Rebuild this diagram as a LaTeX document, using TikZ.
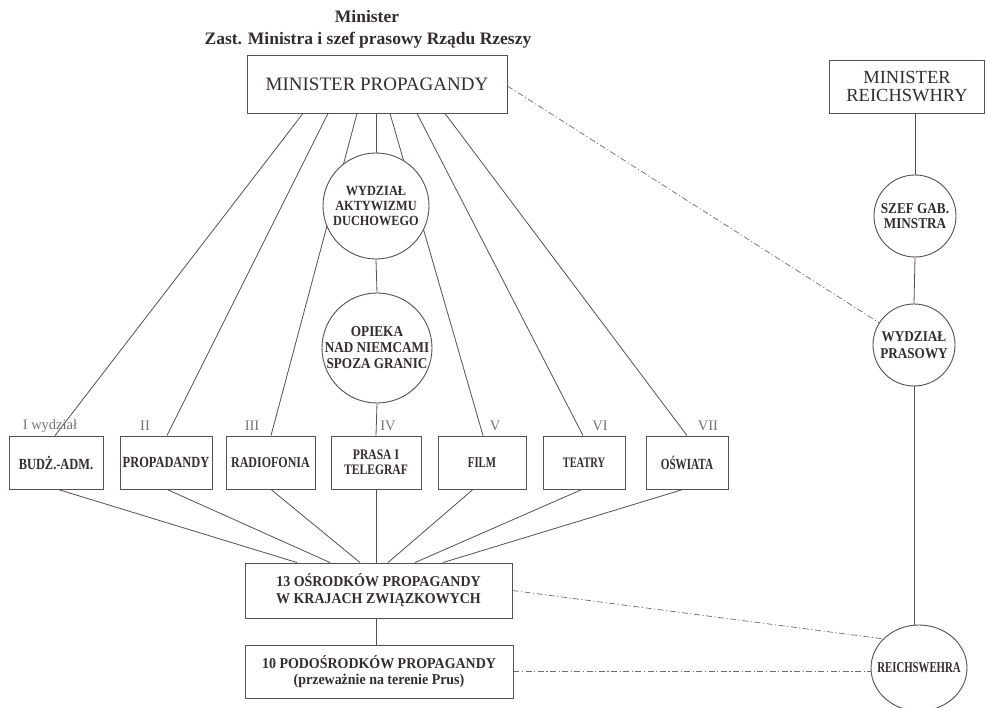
\documentclass[tikz,border=0pt]{standalone}
\usepackage{fontspec}
\setmainfont{Liberation Serif}
\newfontfamily\fa[FakeStretch=0.8]{Liberation Serif}
\newfontfamily\fb[FakeStretch=0.72]{Liberation Serif}
\newfontfamily\fc[FakeStretch=0.88]{Liberation Serif}
\newfontfamily\fd[FakeStretch=0.93]{Liberation Serif}
\usetikzlibrary{backgrounds,shapes.geometric}
\definecolor{ln}{HTML}{5A4E4E}
\definecolor{tx}{HTML}{352D2D}
\definecolor{lab}{HTML}{767272}
\newcommand\zw[1]{\makebox[0pt]{#1}}
\tikzset{
  box/.style={draw=ln, line width=0.9pt, fill=white, inner sep=0pt, align=center, text=tx},
  rnd/.style={circle, draw=ln, line width=0.9pt, fill=white, inner sep=0pt, align=center, text=tx},
  oval/.style={ellipse, draw=ln, line width=0.9pt, fill=white, inner sep=0pt, align=center, text=tx},
  conn/.style={draw=ln, line width=0.8pt},
  dd/.style={draw=ln!85, line width=0.7pt, dash pattern=on 6pt off 2.5pt on 1.2pt off 2.5pt},
  num/.style={text=lab, font=\fontsize{14.5}{16}\selectfont, inner sep=0pt},
  ttl/.style={text=tx, font=\bfseries\fontsize{17.5}{20}\selectfont, inner sep=0pt},
  rowbox/.style={box, minimum height=53pt},
}
\begin{document}
\begin{tikzpicture}[x=1pt,y=-1pt]
\useasboundingbox (0,0) rectangle (986,708);
% titles
\node[ttl] (t1) at (367,17) {Minister};
\node[ttl] (t2) at (368,40) {Zast. Ministra i szef prasowy Rządu Rzeszy};
% main
\node[box, minimum width=260pt, minimum height=58pt, font=\fontsize{19}{22}\selectfont] (mp) at (377,84) {MINISTER PROPAGANDY};
\node[rnd, minimum size=106pt, font=\fc\bfseries\fontsize{14}{15}\selectfont] (wad) at (376,206) {\zw{WYDZIAŁ}\\\zw{AKTYWIZMU}\\\zw{DUCHOWEGO}};
\node[rnd, minimum size=110pt, font=\fc\bfseries\fontsize{15}{16}\selectfont] (op) at (377,348) {\zw{OPIEKA}\\\zw{NAD NIEMCAMI}\\\zw{SPOZA GRANIC}};
% row of departments
\node[rowbox, minimum width=94pt, font=\fa\bfseries\fontsize{15.5}{15}\selectfont] (budz) at (56,462.5) {BUDŻ.-ADM.};
\node[rowbox, minimum width=92pt, font=\fa\bfseries\fontsize{15.5}{15}\selectfont] (prop) at (166,462.5) {PROPADANDY};
\node[rowbox, minimum width=89pt, font=\fa\bfseries\fontsize{15}{15}\selectfont] (radio) at (270.5,462.5) {RADIOFONIA};
\node[rowbox, minimum width=90pt, font=\fa\bfseries\fontsize{14.5}{15}\selectfont] (prasa) at (376,462.5) {PRASA I\\TELEGRAF};
\node[rowbox, minimum width=88pt, font=\fb\bfseries\fontsize{15}{15}\selectfont] (film) at (482,462.5) {FILM};
\node[rowbox, minimum width=82pt, font=\fb\bfseries\fontsize{14.5}{15}\selectfont] (teatry) at (584,462.5) {TEATRY};
\node[rowbox, minimum width=82pt, font=\fb\bfseries\fontsize{15.5}{15}\selectfont] (oswiata) at (687,462.5) {OŚWIATA};
% numerals
\node[num] (n1) at (50,426) {I wydział};
\node[num] (n2) at (145,426) {II};
\node[num] (n3) at (252,426) {III};
\node[num] (n4) at (388,426) {IV};
\node[num] (n5) at (495,426) {V};
\node[num] (n6) at (600,426) {VI};
\node[num] (n7) at (708,426) {VII};
% bottom boxes
\node[box, minimum width=267pt, minimum height=55pt, font=\fd\bfseries\fontsize{15}{17}\selectfont] (o13) at (378.5,590.5) {13 OŚRODKÓW PROPAGANDY\\W KRAJACH ZWIĄZKOWYCH};
\node[box, minimum width=268pt, minimum height=53pt, font=\fd\bfseries\fontsize{15}{16}\selectfont] (o10) at (379,671.5) {10 PODOŚRODKÓW PROPAGANDY\\(przeważnie na terenie Prus)};
% right column
\node[box, minimum width=155pt, minimum height=53pt, font=\fontsize{18.5}{18}\selectfont] (mr) at (907,86.5) {MINISTER\\REICHSWHRY};
\node[rnd, minimum size=82pt, font=\fc\bfseries\fontsize{15}{15}\selectfont] (szef) at (915,216) {\zw{SZEF GAB.}\\\zw{MINSTRA}};
\node[rnd, minimum size=82pt, font=\fc\bfseries\fontsize{15}{16.5}\selectfont] (pras) at (914,345) {\zw{WYDZIAŁ}\\\zw{PRASOWY}};
\node[oval, minimum width=96pt, minimum height=86pt, font=\fb\bfseries\fontsize{15}{13}\selectfont] (rw) at (919,668) {\zw{REICHSWEHRA}};
\begin{scope}[on background layer]
\fill[white] (0,0) rectangle (986,708);
% from minister
\draw[conn] ([xshift=-74pt]mp.south) -- ([xshift=-1pt]budz.north);
\draw[conn] ([xshift=-49pt]mp.south) -- ([xshift=1pt]prop.north);
\draw[conn] ([xshift=-20pt]mp.south) -- ([xshift=0.5pt]radio.north);
\draw[conn] (wad.north |- mp.south) -- (wad.north);
\draw[conn] ([xshift=13pt]mp.south) -- ([xshift=1pt]film.north);
\draw[conn] ([xshift=40pt]mp.south) -- ([xshift=-1pt]teatry.north);
\draw[conn] ([xshift=68pt]mp.south) -- (oswiata.north);
\draw[conn] (wad.south) -- (op.north);
\draw[conn] (op.south) -- (prasa.north);
% to 13 centres
\draw[conn] ([xshift=2pt]budz.south) -- ([xshift=-81.5pt]o13.north);
\draw[conn] ([xshift=1pt]prop.south) -- ([xshift=-48.5pt]o13.north);
\draw[conn] ([xshift=0.5pt]radio.south) -- ([xshift=-18.5pt]o13.north);
\draw[conn] (prasa.south) -- (prasa.south |- o13.north);
\draw[conn] ([xshift=-9pt]film.south) -- ([xshift=9.5pt]o13.north);
\draw[conn] ([xshift=-2pt]teatry.south) -- ([xshift=36.5pt]o13.north);
\draw[conn] ([xshift=-4pt]oswiata.south) -- ([xshift=64.5pt]o13.north);
\draw[conn] (o13.south -| prasa.south) -- (o10.north -| prasa.south);
% right column
\draw[conn] (mr.south -| szef.north) -- (szef.north);
\draw[conn] (szef.south) -- (pras.north);
\draw[conn] (pras.south) -- (pras.south |- rw.north);
% dash-dot links
\draw[dd] ([yshift=-2pt]mp.east) -- (pras);
\draw[dd] (o13.east) -- (rw.141);
\draw[dd] (o10.east) -- (o10.east -| rw.west);
\end{scope}
\end{tikzpicture}
\end{document}
